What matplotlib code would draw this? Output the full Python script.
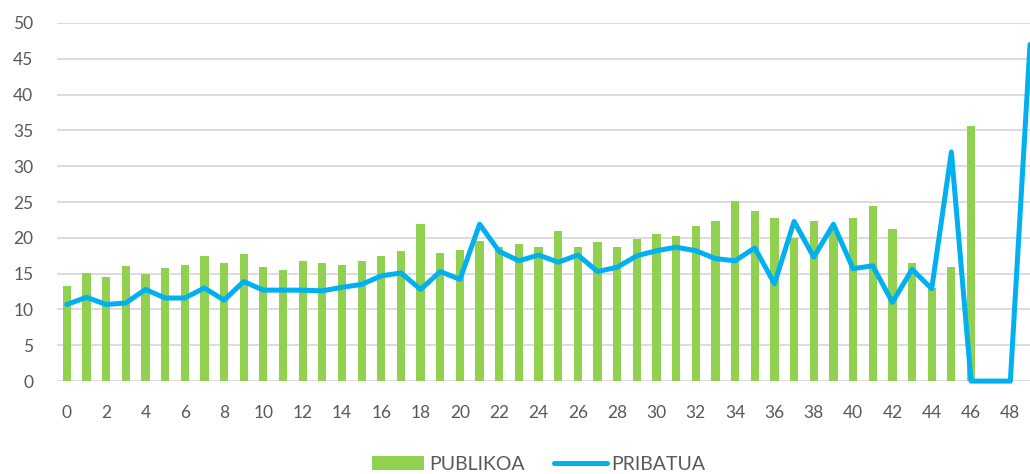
import matplotlib.pyplot as plt
import numpy as np

plt.rcParams['font.family'] = ['Lato', 'DejaVu Sans']

# category labels 0..49
categories = list(range(50))

# PUBLIKOA bars
publikoa = [13.3, 15.1, 14.5, 16.1, 14.9, 15.8, 16.2, 17.5, 16.5, 17.8,
            16.0, 15.5, 16.7, 16.5, 16.2, 16.7, 17.5, 18.2, 21.9, 17.9,
            18.3, 19.6, 18.7, 19.1, 18.7, 20.9, 18.7, 19.4, 18.7, 19.8,
            20.6, 20.3, 21.6, 22.4, 25.2, 23.7, 22.8, 20.0, 22.3, 21.2,
            22.8, 24.4, 21.3, 16.5, 13.0, 16.0, 35.6, 0, 0, 0]

# PRIBATUA line
pribatua = [10.7, 11.7, 10.7, 10.9, 12.8, 11.6, 11.6, 13.0, 11.3, 13.9,
            12.7, 12.7, 12.7, 12.6, 13.1, 13.5, 14.7, 15.1, 12.8, 15.3,
            14.2, 21.9, 18.1, 16.8, 17.6, 16.6, 17.6, 15.3, 15.9, 17.5,
            18.2, 18.7, 18.2, 17.1, 16.8, 18.6, 13.6, 22.3, 17.3, 21.9,
            15.7, 16.1, 11.0, 15.6, 12.9, 32.0, 0, 0, 0, 47.0]

yticks = [0, 5, 10, 15, 20, 25, 30, 35, 40, 45, 50]

fig = plt.figure(figsize=(10.30, 4.74), dpi=100)
ax = fig.add_axes([0.0553, 0.196, 0.9447, 0.7555])

x = np.array(categories)
bars = ax.bar(x, publikoa, width=0.42, color='#92D050', label='PUBLIKOA', zorder=2)
line, = ax.plot(x, pribatua, color='#00B0F0', linewidth=3.6, label='PRIBATUA',
                solid_joinstyle='round', solid_capstyle='round', zorder=3, clip_on=False)

ax.set_xlim(-0.5, 49.0)
ax.set_ylim(0, 50)
ax.set_yticks(yticks)
ax.set_xticks(categories[::2])
ax.set_xticklabels([str(c) for c in categories[::2]])

ax.grid(axis='y', color='#d9d9d9', linewidth=1.3, zorder=0)
ax.set_axisbelow(True)
for s in ax.spines.values():
    s.set_visible(False)
ax.tick_params(axis='both', length=0, labelsize=12.5, colors='#595959')
ax.tick_params(axis='x', pad=17)
ax.tick_params(axis='y', pad=17)

leg = fig.legend([bars, line], ['PUBLIKOA', 'PRIBATUA'], loc='lower center', ncol=2,
                 frameon=False, fontsize=14, bbox_to_anchor=(0.523, -0.035),
                 handlelength=2.7, handleheight=0.75, columnspacing=1.5,
                 handletextpad=0.25)
for t in leg.get_texts():
    t.set_color('#595959')

fig.savefig('out.png', dpi=100)
